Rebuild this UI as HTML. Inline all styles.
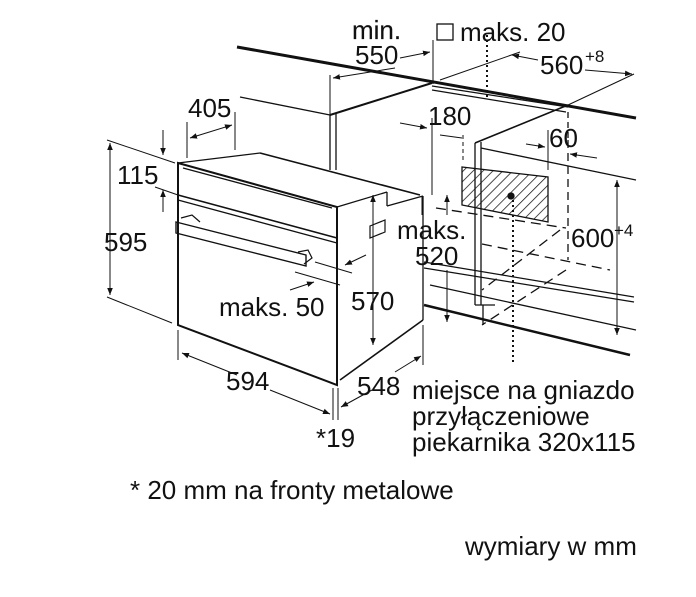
<!DOCTYPE html>
<html><head><meta charset="utf-8"><style>
html,body{margin:0;padding:0;background:#fff;width:696px;height:597px;overflow:hidden}
svg{display:block}
text{font-family:"Liberation Sans",sans-serif;fill:#111}
</style></head><body>
<svg width="696" height="597" viewBox="0 0 696 597" xmlns="http://www.w3.org/2000/svg">
<defs>
<marker id="a" viewBox="0 0 10 10" refX="10" refY="5" markerWidth="7" markerHeight="7" orient="auto-start-reverse"><path d="M0,1 L10,5 L0,9 z" fill="#111"/></marker>
<pattern id="h" width="7" height="7" patternUnits="userSpaceOnUse" patternTransform="rotate(45)"><line x1="0" y1="0" x2="0" y2="7" stroke="#111" stroke-width="1.5"/></pattern>
</defs>
<g stroke="#111" fill="none" stroke-width="1.3">
<line x1="237" y1="47" x2="636" y2="118" stroke-width="3"/>
<line x1="432" y1="86" x2="568" y2="107" stroke-width="1.3"/>
<line x1="432" y1="90" x2="566" y2="112"/>
<line x1="330" y1="115" x2="432" y2="83" stroke-width="2"/>
<line x1="330" y1="115" x2="330" y2="170"/><line x1="336" y1="114" x2="336" y2="170"/>
<line x1="240" y1="97" x2="330" y2="115"/>
<line x1="330" y1="75" x2="330" y2="115" stroke-width="1"/>
<line x1="433" y1="40" x2="433" y2="84" stroke-width="1"/>
<line x1="333" y1="78" x2="395" y2="68" marker-start="url(#a)" stroke-width="1"/>
<line x1="400" y1="58" x2="430" y2="52" marker-end="url(#a)" stroke-width="1"/>
<line x1="440" y1="80" x2="520" y2="52" stroke-width="1"/>
<line x1="512" y1="55" x2="538" y2="60" marker-start="url(#a)" stroke-width="1"/>
<line x1="585" y1="70" x2="632" y2="74" marker-end="url(#a)" stroke-width="1"/>
<line x1="568" y1="105" x2="634" y2="74" stroke-width="1"/>
<line x1="487" y1="35" x2="487" y2="98" stroke-dasharray="2,3" stroke-width="2"/>
<line x1="475" y1="143" x2="568" y2="105" stroke-width="1.6"/>
<line x1="475" y1="143" x2="475" y2="305"/><line x1="481" y1="142" x2="481" y2="305"/>
<line x1="481" y1="148" x2="636" y2="180"/>
<line x1="568" y1="112" x2="568" y2="140" stroke-dasharray="6,4"/>
<line x1="568" y1="140" x2="568" y2="260" stroke-dasharray="8,5"/>
<line x1="436" y1="208" x2="566" y2="228" stroke-dasharray="10,6"/>
<line x1="482" y1="244" x2="610" y2="270" stroke-dasharray="10,6"/>
<line x1="560" y1="230" x2="482" y2="290" stroke-dasharray="10,6"/>
<line x1="566" y1="270" x2="482" y2="325" stroke-dasharray="10,6"/>
<polygon points="462,167 548,177 548,222 462,205" fill="url(#h)"/>
<circle cx="511" cy="196" r="3" fill="#111"/>
<line x1="513" y1="200" x2="513" y2="362" stroke-dasharray="2,3" stroke-width="2"/>
<line x1="424" y1="262" x2="634" y2="297" stroke-width="1.2"/><line x1="424" y1="268" x2="634" y2="302"/>
<line x1="424" y1="305" x2="630" y2="355" stroke-width="2.5"/>
<line x1="430" y1="285" x2="636" y2="330"/>
<line x1="475" y1="305" x2="495" y2="305"/><line x1="483" y1="305" x2="483" y2="325"/>
<line x1="400" y1="123" x2="427" y2="128" marker-end="url(#a)" stroke-width="1"/>
<line x1="432" y1="118" x2="432" y2="195" stroke-width="1"/>
<line x1="463" y1="135" x2="463" y2="160" stroke-dasharray="4,3" stroke-width="1"/>
<line x1="440" y1="135" x2="462" y2="138" stroke-width="1"/>
<line x1="526" y1="144" x2="545" y2="147" marker-end="url(#a)" stroke-width="1"/>
<line x1="548" y1="130" x2="548" y2="170" stroke-width="1"/>
<line x1="597" y1="158" x2="570" y2="154" marker-end="url(#a)" stroke-width="1"/>
<line x1="617" y1="180" x2="617" y2="335" marker-start="url(#a)" marker-end="url(#a)" stroke-width="1"/>
<polygon points="178,163 337,207 337,385 178,325" stroke-width="2"/>
<line x1="178" y1="163" x2="260" y2="153"/>
<line x1="260" y1="153" x2="420" y2="195" stroke-width="1.6"/>
<line x1="183" y1="168" x2="332" y2="208"/>
<line x1="337" y1="207" x2="387" y2="192"/>
<line x1="387" y1="192" x2="387" y2="206"/>
<line x1="387" y1="206" x2="423" y2="196"/>
<line x1="423" y1="196" x2="423" y2="320"/>
<line x1="340" y1="380" x2="423" y2="320" stroke-width="1.6"/>
<line x1="178" y1="195" x2="337" y2="238" stroke-width="1.6"/>
<line x1="178" y1="200" x2="337" y2="243"/>
<path d="M176,222 L306,255 L306,266 L176,233 z" stroke-width="1.4"/>
<path d="M181,218 L192,215 L200,222 M298,252 L308,250 L312,258 L304,264" stroke-width="1.2"/>
<path d="M370,226 L385,220 L385,232 L370,238 z" stroke-width="1.2"/>
<line x1="107" y1="140" x2="175" y2="163" stroke-width="1"/>
<line x1="107" y1="297" x2="172" y2="323" stroke-width="1"/>
<line x1="110" y1="143" x2="110" y2="295" marker-start="url(#a)" marker-end="url(#a)" stroke-width="1"/>
<line x1="163" y1="130" x2="163" y2="155" marker-end="url(#a)" stroke-width="1"/>
<line x1="163" y1="212" x2="163" y2="190" marker-end="url(#a)" stroke-width="1"/>
<line x1="155" y1="187" x2="178" y2="195" stroke-width="1"/>
<line x1="187" y1="122" x2="187" y2="158" stroke-width="1"/>
<line x1="235" y1="112" x2="235" y2="150" stroke-width="1"/>
<line x1="190" y1="138" x2="232" y2="125" marker-start="url(#a)" marker-end="url(#a)" stroke-width="1"/>
<line x1="373" y1="195" x2="373" y2="345" marker-start="url(#a)" marker-end="url(#a)" stroke-width="1"/>
<line x1="315" y1="262" x2="352" y2="273" stroke-width="1"/>
<line x1="295" y1="272" x2="340" y2="285" stroke-width="1"/>
<line x1="366" y1="255" x2="345" y2="265" marker-end="url(#a)" stroke-width="1"/>
<line x1="290" y1="290" x2="314" y2="282" marker-end="url(#a)" stroke-width="1"/>
<line x1="422" y1="196" x2="422" y2="215" stroke-width="1"/>
<line x1="447" y1="270" x2="447" y2="322" marker-end="url(#a)" stroke-width="1"/>
<line x1="447" y1="215" x2="447" y2="195" marker-end="url(#a)" stroke-width="1"/>
<line x1="178" y1="330" x2="178" y2="360" stroke-width="1"/>
<line x1="333" y1="388" x2="333" y2="420" stroke-width="1"/>
<line x1="338" y1="388" x2="338" y2="420" stroke-width="1"/>
<line x1="423" y1="325" x2="423" y2="365" stroke-width="1"/>
<line x1="182" y1="353" x2="237" y2="375" marker-start="url(#a)" stroke-width="1"/>
<line x1="270" y1="390" x2="330" y2="414" marker-end="url(#a)" stroke-width="1"/>
<line x1="341" y1="407" x2="372" y2="390" marker-start="url(#a)" stroke-width="1"/>
<line x1="395" y1="372" x2="421" y2="356" marker-end="url(#a)" stroke-width="1"/>
</g>
<g font-size="26">
<text x="352" y="39" stroke="#111" stroke-width="0.15">min.</text>
<text x="355" y="64">550</text>
<rect x="437" y="24" width="16" height="16" fill="none" stroke="#111" stroke-width="1.3"/>
<text x="460" y="41">maks. 20</text>
<text x="540" y="74">560</text><text x="585" y="62" font-size="17">+8</text>
<text x="188" y="117">405</text>
<text x="428" y="125">180</text>
<text x="549" y="147">60</text>
<text x="117" y="184">115</text>
<text x="104" y="251">595</text>
<text x="397" y="239">maks.</text>
<text x="415" y="265">520</text>
<text x="571" y="247">600</text><text x="614" y="236" font-size="17">+4</text>
<text x="219" y="316">maks. 50</text>
<text x="351" y="310">570</text>
<text x="226" y="390">594</text>
<text x="357" y="395">548</text>
<text x="316" y="447">*19</text>
<text x="412" y="399">miejsce na gniazdo</text>
<text x="412" y="425">przyłączeniowe</text>
<text x="412" y="451">piekarnika 320x115</text>
<text x="130" y="499">* 20 mm na fronty metalowe</text>
<text x="465" y="555">wymiary w mm</text>
</g>
</svg>
</body></html>
